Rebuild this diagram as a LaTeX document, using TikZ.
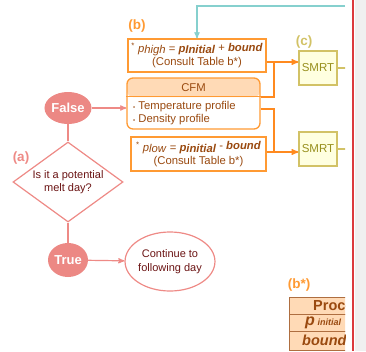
\documentclass[tikz,border=0pt]{standalone}
\usepackage{fontspec}
\setmainfont{Liberation Sans}
\usetikzlibrary{arrows,shapes.geometric}
\definecolor{pinkln}{HTML}{EE8A86}
\definecolor{pinkfill}{HTML}{EC8884}
\definecolor{darkred}{HTML}{6B1414}
\definecolor{orln}{HTML}{FF8A1F}
\definecolor{orbox}{HTML}{FF9A33}
\definecolor{brn}{HTML}{9A4A10}
\definecolor{peach}{HTML}{FFDAB6}
\definecolor{smrtfill}{HTML}{FFFFE0}
\definecolor{smrtln}{HTML}{D2C266}
\definecolor{smrttxt}{HTML}{98901E}
\definecolor{cyanln}{HTML}{86D0CE}
\definecolor{redln}{HTML}{DC3A3E}
\definecolor{stripgray}{HTML}{F0F0F0}

\begin{document}
\begin{tikzpicture}[x=1pt,y=-1pt,
  pline/.style={draw=pinkln,line width=1.2pt},
  oline/.style={draw=orln,line width=1.4pt},
  cline/.style={draw=cyanln,line width=1.2pt},
  pbubble/.style={ellipse,fill=pinkfill,text=white,inner sep=0pt,minimum width=40pt,minimum height=32pt,font=\fontsize{13}{15}\selectfont\bfseries},
  pbox/.style={draw=orbox,line width=1.3pt,fill=white,inner sep=0pt,text=brn,align=center,font=\fontsize{11.3}{13.5}\selectfont},
  smrtbox/.style={draw=smrtln,line width=1.3pt,fill=smrtfill,text=smrttxt,minimum width=38pt,minimum height=34pt,inner sep=0pt,font=\fontsize{11.5}{13}\selectfont},
  tag/.style={font=\fontsize{13.5}{15}\selectfont\bfseries},
  tabrow/.style={draw=brn!80,line width=0.8pt,fill=peach,minimum width=120pt,minimum height=17pt,anchor=north west,inner sep=0pt},
  tabtxt/.style={text=brn,anchor=west,inner sep=0pt,font=\fontsize{14.5}{16}\selectfont\bfseries}]
\useasboundingbox (0,0) rectangle (366,351);
%\draw [help lines,step=10pt] (0,0) grid (366,351);
\fill[stripgray] (355,0) rectangle (366,351);
\draw[redln,line width=1.2pt] (353,0) -- (353,351);

% left column
\node[pbubble] (false) at (68,108) {False};
\node[diamond,draw=pinkln,line width=1.2pt,fill=white,minimum width=110pt,minimum height=80pt,inner sep=0pt] (melt) at (68,182) {};
\node[text=darkred,align=center,font=\fontsize{11}{13.5}\selectfont] (melttxt) at (melt) {Is it a potential\\melt day?};
\node[pbubble,minimum height=34pt] (true) at (68,260) {True};
\node[ellipse,draw=pinkln,line width=1.2pt,minimum width=84pt,minimum height=59pt,inner sep=0pt,text=darkred,align=center,font=\fontsize{11}{13.5}\selectfont] (cont) at (170,261.5) {Continue to\\following day};
\node[tag,text=pinkln] (taga) at (21,158) {(a)};

% middle column
\node[pbox,minimum width=138pt,minimum height=33pt] (phigh) at (197,55.5)
  {\textsuperscript{*} \textit{p}\raisebox{-1pt}{\textit{high}} = \textbf{\textit{p}}\raisebox{-1pt}{\textbf{\textit{Initial}}} \raisebox{1pt}{+ \textbf{\textit{bound}}}\\(Consult Table b*)};
\node[pbox,rounded corners=6pt,minimum width=133pt,minimum height=51pt,
  path picture={\fill[peach] (path picture bounding box.north west) rectangle ([yshift=-19pt]path picture bounding box.north east);}] (cfm) at (193.5,103.5) {};
\draw[orbox,line width=1.2pt] ([yshift=-19pt]cfm.north west) -- ([yshift=-19pt]cfm.north east);
\node[text=brn,font=\fontsize{11.3}{13}\selectfont] (cfmtitle) at (193.5,87.5) {CFM};
\node[text=brn,anchor=west,align=left,inner sep=0pt,font=\fontsize{11.3}{13}\selectfont] (cfmlist) at (133,113.5)
  {{\fontsize{6}{6}\selectfont•} Temperature profile\\{\fontsize{6}{6}\selectfont•} Density profile};
\node[pbox,minimum width=135pt,minimum height=34pt] (plow) at (198.5,154)
  {\textsuperscript{*} \textit{p}\raisebox{-1pt}{\textit{low}} = \textbf{\textit{p}}\raisebox{-1pt}{\textbf{\textit{initial}}} \raisebox{2pt}{- \textbf{\textit{bound}}}\\(Consult Table b*)};
\node[tag,text=orbox] (tagb) at (137,26) {(b)};

% right column
\node[smrtbox] (smrtA) at (318,68) {SMRT};
\node[smrtbox] (smrtB) at (318,149) {SMRT};
\node[tag,text=smrtln] (tagc) at (304,42) {(c)};
\node[tag,text=orbox] (tagbs) at (299,285) {(b*)};

% connectors
\coordinate (cyanend) at (345,6);
\coordinate (hi) at (274,62);
\coordinate (lo) at (274,152);
\draw[cline,-stealth'] (cyanend) -| (phigh.north);
\draw[pline,-stealth'] (false) -- (cfm.west |- false);
\draw[pline] (false) -- (melt.north);
\draw[pline] (melt.south) -- (true);
\draw[pline,-stealth'] (true) -- (cont);
\draw[oline] (cfm.east |- 0,97) -| (hi);
\draw[oline,-stealth'] (phigh.east |- hi) -- (smrtA.west |- hi);
\draw[oline] (cfm.east |- 0,109) -| (lo);
\draw[oline,-stealth'] (plow.east |- lo) -- (smrtB.west |- lo);

% cut off at the right edge
\begin{scope}
\clip (0,0) rectangle (345,351);
\draw[smrtln,line width=1.2pt,-stealth'] (smrtA.east) -- ++(14,0);
\draw[smrtln,line width=1.2pt,-stealth'] (smrtB.east) -- ++(14,0);
\node[tabrow] (row1) at (289,297) {};
\node[tabrow] (row2) at (289,314) {};
\node[tabrow,minimum height=19pt] (row3) at (289,331) {};
\node[tabtxt] (proc) at (313,306) {Process};
\node[tabtxt] (pini) at (305,322.5) {\fontsize{16}{16}\selectfont\textit{p}\,\fontsize{9}{9}\selectfont\textit{initial}};
\node[tabtxt] (bnd) at (302,340) {\textit{bound}};
\end{scope}
\end{tikzpicture}
\end{document}
